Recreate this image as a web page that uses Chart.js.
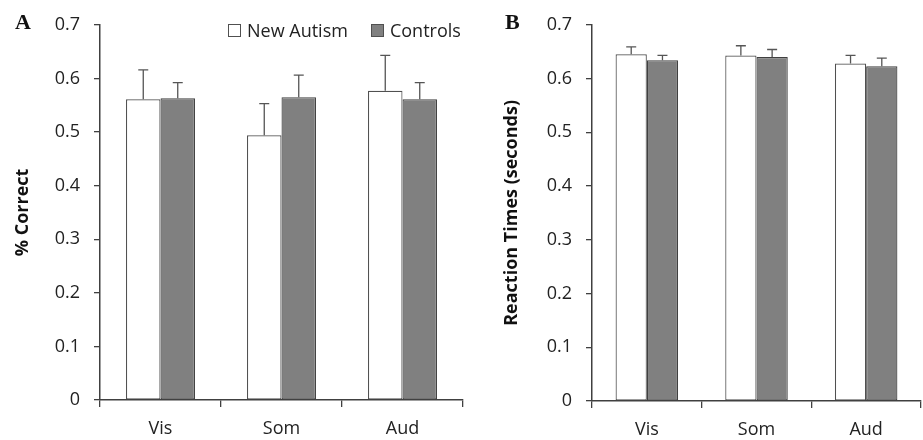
<!DOCTYPE html>
<html>
<head>
<meta charset="utf-8">
<script src="https://cdn.jsdelivr.net/npm/chart.js@4.4.0/dist/chart.umd.min.js"></script>
<style>
  body { margin: 0; background: #fff; }
  #wrap { position: relative; width: 923px; height: 440px; overflow: hidden; font-family: 'Open Sans', sans-serif; }
  canvas { position: absolute; top: 0; }
  #chartA { left: 0; }
  #chartB { left: 470px; }
  .panel { position: absolute; font-family: 'Liberation Serif', serif; font-weight: bold; font-size: 22px; color: #111; line-height: 1; }
  .legend { position: absolute; top: 18px; left: 228px; font-size: 18px; color: #222; display: flex; align-items: center; white-space: nowrap; }
  .legend .box { width: 11px; height: 11px; border: 1px solid #505050; display: inline-block; margin-right: 6px; }
</style>
</head>
<body>
<div id="wrap">
  <canvas id="chartA" width="470" height="440"></canvas>
  <canvas id="chartB" width="453" height="440"></canvas>
  <div class="panel" style="left:15px; top:11px;">A</div>
  <div class="panel" style="left:505px; top:11px;">B</div>
  <div class="legend">
    <span class="box" style="background:#fff;"></span><span>New Autism</span>
    <span class="box" style="background:#808080; margin-left:23px;"></span><span>Controls</span>
  </div>
</div>
<script>
// Données
const categories = ['Vis', 'Som', 'Aud'];

const correctAutism = [0.561, 0.494, 0.577];
const correctAutismErr = [0.055, 0.059, 0.066];
const correctControls = [0.563, 0.565, 0.561];
const correctControlsErr = [0.029, 0.041, 0.031];

const rtAutism = [0.645, 0.643, 0.628];
const rtAutismErr = [0.014, 0.018, 0.015];
const rtControls = [0.634, 0.640, 0.623];
const rtControlsErr = [0.009, 0.014, 0.015];

const yTicks = [0, 0.1, 0.2, 0.3, 0.4, 0.5, 0.6, 0.7];

const axisColor = '#404040';
const textColor = '#222';

// Barres d'erreur (vers le haut seulement, avec chapeau)
const errorBars = {
  id: 'errorBars',
  afterDatasetsDraw(chart) {
    const ctx = chart.ctx;
    const y = chart.scales.y;
    ctx.save();
    ctx.strokeStyle = '#555';
    ctx.lineWidth = 1.3;
    chart.data.datasets.forEach((ds, i) => {
      const meta = chart.getDatasetMeta(i);
      meta.data.forEach((bar, j) => {
        const top = y.getPixelForValue(ds.data[j] + ds.errors[j]);
        ctx.beginPath();
        ctx.moveTo(bar.x, bar.y);
        ctx.lineTo(bar.x, top);
        ctx.moveTo(bar.x - 5, top);
        ctx.lineTo(bar.x + 5, top);
        ctx.stroke();
      });
    });
    ctx.restore();
  }
};

function makeChart(id, autism, autismErr, controls, controlsErr, title, yWidth, xHeight, padRight, titlePad) {
  const ctx = document.getElementById(id).getContext('2d');
  return new Chart(ctx, {
    type: 'bar',
    data: {
      labels: categories,
      datasets: [{
        label: 'New Autism',
        data: autism,
        errors: autismErr,
        backgroundColor: '#ffffff',
        borderColor: '#505050',
        borderWidth: 1.2,
        borderSkipped: false
      }, {
        label: 'Controls',
        data: controls,
        errors: controlsErr,
        backgroundColor: '#808080',
        borderColor: '#404040',
        borderWidth: 1.2,
        borderSkipped: false
      }]
    },
    options: {
      responsive: false,
      animation: false,
      layout: { padding: { top: 21, right: padRight, left: 0, bottom: 0 } },
      datasets: { bar: { categoryPercentage: 0.57, barPercentage: 1.0 } },
      plugins: { legend: { display: false }, tooltip: { enabled: false } },
      scales: {
        x: {
          afterFit: s => { s.height = xHeight; },
          grid: { drawOnChartArea: false, drawTicks: true, tickLength: 7, color: axisColor, lineWidth: 1.3 },
          border: { display: true, color: axisColor, width: 1.5 },
          ticks: { color: textColor, padding: 11, font: { family: 'Open Sans', size: 18 } }
        },
        y: {
          min: 0,
          max: 0.7,
          afterFit: s => { s.width = yWidth; },
          afterBuildTicks: s => { s.ticks = yTicks.map(v => ({ value: v })); },
          grid: { drawOnChartArea: false, drawTicks: true, tickLength: 6, color: axisColor, lineWidth: 1.3 },
          border: { display: true, color: axisColor, width: 1.5 },
          ticks: {
            color: textColor,
            padding: 14,
            font: { family: 'Open Sans', size: 18 },
            callback: v => v === 0 ? '0' : v.toFixed(1)
          },
          title: {
            display: true,
            text: title,
            color: '#111',
            padding: { top: titlePad, bottom: 0 },
            font: { family: 'Open Sans', size: 18, weight: 'bold' }
          }
        }
      }
    },
    plugins: [errorBars]
  });
}

document.addEventListener('DOMContentLoaded', function() {
  makeChart('chartA', correctAutism, correctAutismErr, correctControls, correctControlsErr,
    '% Correct', 100, 40, 7, 12);
  makeChart('chartB', rtAutism, rtAutismErr, rtControls, rtControlsErr,
    'Reaction Times (seconds)', 122, 39, 2, 31);
});
</script>
</body>
</html>
